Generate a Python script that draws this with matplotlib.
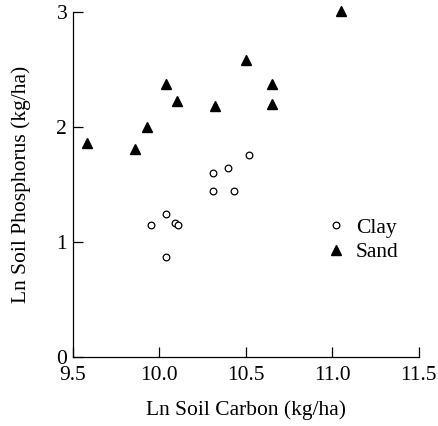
import numpy as np
from matplotlib import pyplot as plt

plt.rcParams['font.family'] = ['Liberation Serif', 'DejaVu Serif']
plt.rcParams['font.size'] = 15.5

# Data
clay_c = [10.52, 10.40, 10.31, 10.31, 10.43, 9.95, 10.04, 10.09, 10.11, 10.04]
clay_p = [1.76, 1.64, 1.60, 1.44, 1.44, 1.15, 1.24, 1.16, 1.15, 0.87]
sand_c = [9.58, 9.86, 9.93, 10.04, 10.10, 10.32, 10.50, 10.65, 10.65, 11.05]
sand_p = [1.86, 1.81, 2.00, 2.37, 2.23, 2.18, 2.58, 2.37, 2.20, 3.01]

xticks = [9.5, 10.0, 10.5, 11.0, 11.5]
xticklabels = ['9.5', '10.0', '10.5', '11.0', '11.5']
yticks = [0, 1, 2, 3]

fig = plt.figure(figsize=(4.38, 4.26), dpi=100)
ax = fig.add_axes([0.166, 0.1627, 0.79, 0.809])

ax.plot(clay_c, clay_p, linestyle='none', marker='o', markersize=4.8,
        markerfacecolor='white', markeredgecolor='black', markeredgewidth=0.9,
        label='Clay', clip_on=False)
ax.plot(sand_c, sand_p, linestyle='none', marker='^', markersize=6.5,
        color='black', label='Sand', clip_on=False)

ax.set_xlim(9.5, 11.5)
ax.set_ylim(0, 3)
ax.set_xticks(xticks)
ax.set_xticklabels(xticklabels)
ax.set_yticks(yticks)

for side in ['top', 'right']:
    ax.spines[side].set_visible(False)
for side in ['left', 'bottom']:
    ax.spines[side].set_linewidth(0.9)
ax.tick_params(direction='in', length=7, width=0.9, colors='black')
ax.tick_params(axis='x', pad=7)
ax.tick_params(axis='y', pad=4)

ax.set_xlabel('Ln Soil Carbon (kg/ha)', labelpad=11)
ax.set_ylabel('Ln Soil Phosphorus (kg/ha)', labelpad=18)

ax.legend(loc='upper left', bbox_to_anchor=(0.707, 0.434), frameon=False,
          handlelength=0.7, handletextpad=0.6, labelspacing=0.2, borderpad=0)

plt.savefig('out.png', dpi=100)
